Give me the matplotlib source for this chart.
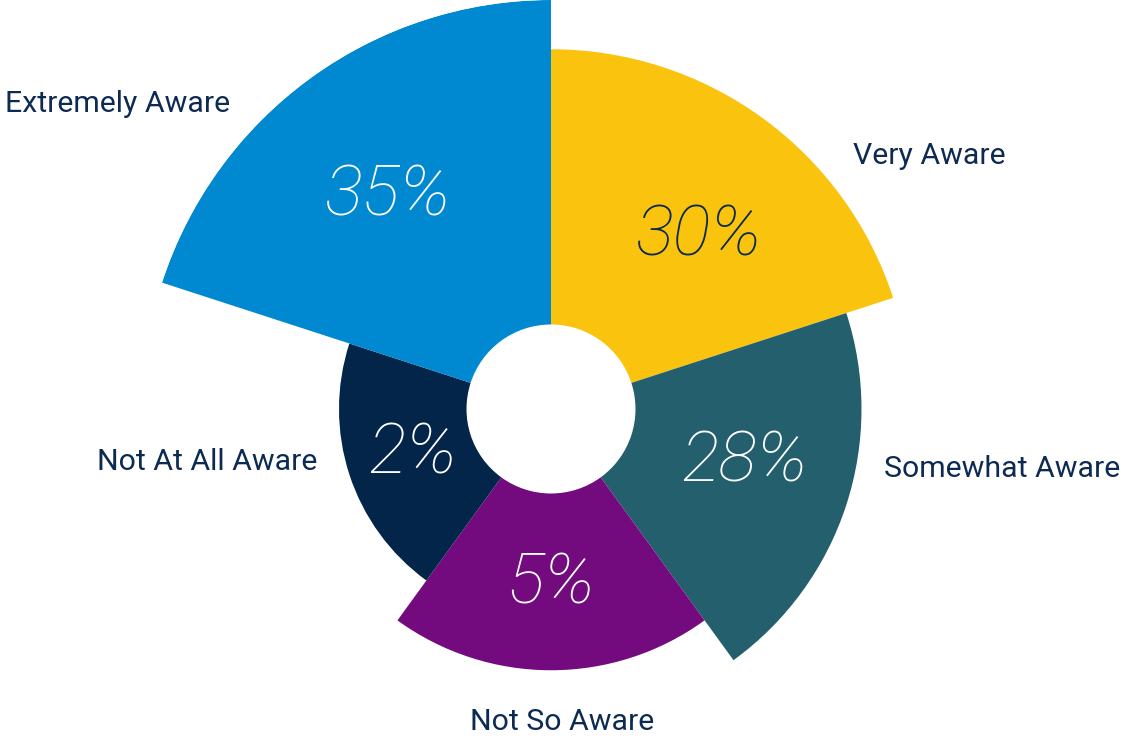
import numpy as np
import matplotlib
matplotlib.use("Agg")
import matplotlib.pyplot as plt
from matplotlib import font_manager as fm

categories = ["Very Aware", "Somewhat Aware", "Not So Aware", "Not At All Aware", "Extremely Aware"]
values = [30, 28, 5, 2, 35]
pct_labels = ["30%", "28%", "5%", "2%", "35%"]
colors = ["#FAC30E", "#245F6E", "#730A7E", "#022549", "#0088D1"]
pct_colors = ["#0b2a4f", "white", "white", "white", "white"]


def has(name, weight_max=400, style=None):
    for f in fm.fontManager.ttflist:
        w = f.weight if isinstance(f.weight, int) else 400
        if f.name == name and w <= weight_max and (style is None or f.style == style):
            return True
    return False


fam = "DejaVu Sans"
for cand in ["Roboto", "Lato", "Open Sans", "Inter", "Noto Sans"]:
    if has(cand, 350):
        fam = cand
        break
pct_weight = 100 if has(fam, 150, "italic") else "light"

W, H = 1128, 740
DPI = 100
fig = plt.figure(figsize=(W / DPI, H / DPI), dpi=DPI)
fig.patch.set_facecolor("white")

cx, cy, R = 551, 409, 409
ax = fig.add_axes([(cx - R) / W, (H - cy - R) / H, 2 * R / W, 2 * R / H], projection="polar")
ax.set_theta_zero_location("N")
ax.set_theta_direction(-1)
ax.set_ylim(0, R)
ax.axis("off")

inner = 84.5
n = len(values)
rank = np.argsort(np.argsort(values))  # 0 = smallest
outer = 212 + 49.25 * rank
width = 2 * np.pi / n
theta = np.arange(n) * width + width / 2

ax.bar(theta, outer - inner, width=width, bottom=inner, color=colors,
       edgecolor="none", linewidth=0, align="center")

# percentage labels (pixel anchor: centre x, baseline y)
pct_pos = [(699, 256), (744, 481), (551, 604), (413, 474), (388, 216)]
for (x, y), lab, c in zip(pct_pos, pct_labels, pct_colors):
    fig.text(x / W, 1 - y / H, lab, ha="center", va="baseline", fontsize=51,
             color=c, family=fam, fontweight=pct_weight, fontstyle="italic")

text_col = "#0d2b52"
lab_pos = [(853, 164, "left"), (884, 477, "left"), (562, 730, "center"),
           (317, 470, "right"), (230, 112, "right")]
for cat, (x, y, ha) in zip(categories, lab_pos):
    fig.text(x / W, 1 - y / H, cat, ha=ha, va="baseline", fontsize=21.8,
             color=text_col, family=fam, fontweight="normal")

fig.savefig("out.png", dpi=DPI, facecolor="white")
